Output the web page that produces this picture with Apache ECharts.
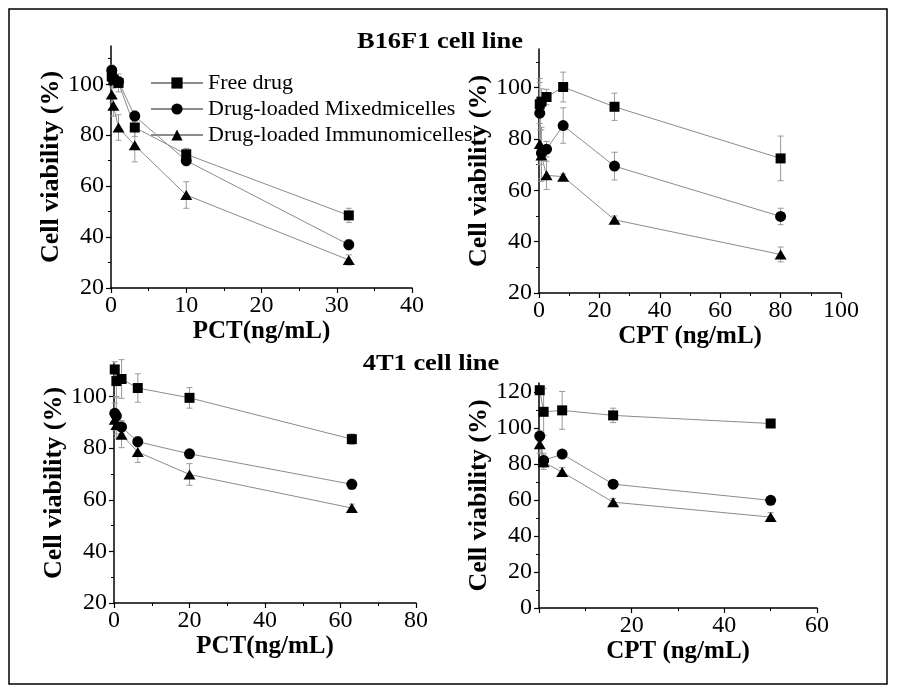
<!DOCTYPE html>
<html><head><meta charset="utf-8">
<script src="https://cdn.jsdelivr.net/npm/echarts@6/dist/echarts.min.js"></script>
<style>html,body{margin:0;padding:0;background:#fff}#c{width:897px;height:692px}</style>
</head><body><div id="c"></div>
<script>
const seriesNames = ['Free drug', 'Drug-loaded Mixedmicelles', 'Drug-loaded Immunomicelles'];
const titles = ['B16F1 cell line', '4T1 cell line'];
const xNames = ['PCT(ng/mL)', 'CPT (ng/mL)', 'PCT(ng/mL)', 'CPT (ng/mL)'];
const yName = 'Cell viability (%)';

// Panel A: B16F1, PCT
const xA = [0.1, 0.316, 1, 3.16, 10, 31.6];
const freeA = [103, 101.5, 100.5, 83, 72.5, 48.5];
const freeAErr = [3, 3, 3.5, 3.5, 2.3, 2.8];
const mixA = [105.5, 102.5, 101, 87.5, 70, 37];
const mixAErr = [2, 2, 2, 2, 2, 2];
const immA = [96, 91.5, 83, 76, 56.5, 31];
const immAErr = [3, 4, 5, 6.5, 5.2, 2];

// Panel B: B16F1, CPT
const xB = [0.25, 0.8, 2.5, 8, 25, 80];
const freeB = [93.5, 94.5, 96.3, 100.2, 92.5, 72.4];
const freeBErr = [10, 5, 3, 5.8, 5.3, 8.7];
const mixB = [90, 74.5, 76, 85.2, 69.4, 49.8];
const mixBErr = [12, 10, 3, 6.9, 5.4, 3.2];
const immB = [78, 73.5, 65.8, 65.3, 48.5, 35];
const immBErr = [8, 10, 5.5, 1, 1.5, 2.9];

// Panel C: 4T1, PCT
const xC = [0.2, 0.63, 2, 6.3, 20, 63];
const freeC = [110.5, 106, 106.8, 103.3, 99.5, 83.5];
const freeCErr = [3, 6, 7.5, 5.5, 4, 2];
const mixC = [93.5, 92.5, 88.2, 82.5, 77.8, 66];
const mixCErr = [4, 7, 2.5, 2, 1.5, 2];
const immC = [91, 89, 85.2, 78.5, 69.8, 56.8];
const immCErr = [4, 5, 5, 4, 4.2, 1.5];

// Panel D: 4T1, CPT
const xD = [0.16, 1, 5, 16, 50];
const freeD = [121, 109, 109.8, 107, 102.5];
const freeDErr = [2, 13, 10.5, 4, 1.5];
const mixD = [95.5, 82, 85.5, 68.8, 59.8];
const mixDErr = [3, 4, 2, 1, 1];
const immD = [91, 81, 75.5, 58.8, 50.5];
const immDErr = [5, 4, 2.5, 2, 2.5];

// axis ranges
const xMax = [40, 100, 80, 60];
const xInterval = [10, 20, 20, 20];
const yMin = [20, 20, 20, 0];
const yMax = [115, 115, 113, 125];
const yMajor = [[20, 40, 60, 80, 100], [20, 40, 60, 80, 100], [20, 40, 60, 80, 100], [0, 20, 40, 60, 80, 100, 120]];
const yMinor = [[30, 50, 70, 90, 110], [30, 50, 70, 90, 110], [30, 50, 70, 90, 110], [10, 30, 50, 70, 90, 110]];

const panels = [
  {x: xA, ys: [freeA, mixA, immA], es: [freeAErr, mixAErr, immAErr]},
  {x: xB, ys: [freeB, mixB, immB], es: [freeBErr, mixBErr, immBErr]},
  {x: xC, ys: [freeC, mixC, immC], es: [freeCErr, mixCErr, immCErr]},
  {x: xD, ys: [freeD, mixD, immD], es: [freeDErr, mixDErr, immDErr]}
];

const FONT = '"Liberation Serif", "Times New Roman", serif';
const grids = [
  {left: 111, top: 46, width: 301, height: 242},
  {left: 539, top: 49, width: 302, height: 244},
  {left: 114, top: 363, width: 302, height: 240},
  {left: 539, top: 383, width: 278, height: 225}
].map(g => Object.assign(g, {containLabel: false, outerBoundsMode: 'none'}));
const yNameGap = [45, 41, 45, 36];
const xNameGap = [29, 29, 31, 23];

const axisLine = {show: true, onZero: false, lineStyle: {color: '#000', width: 1.5}};
const xAxes = [], yAxes = [], yMinorAxes = [];
for (let i = 0; i < 4; i++) {
  xAxes.push({
    type: 'value', gridIndex: i, min: 0, max: xMax[i], interval: xInterval[i],
    name: xNames[i], nameLocation: 'middle', nameGap: xNameGap[i],
    nameTextStyle: {fontFamily: FONT, fontWeight: 'bold', fontSize: 25, color: '#000'},
    axisLine: axisLine,
    axisTick: {show: true, length: 5, lineStyle: {color: '#000', width: 1.2}},
    minorTick: {show: true, splitNumber: 2, length: 3, lineStyle: {color: '#000', width: 1}},
    splitLine: {show: false}, minorSplitLine: {show: false},
    axisLabel: {fontFamily: FONT, fontSize: 24, color: '#000', margin: 6,
      formatter: v => (i === 3 && v === 0) ? '' : String(v)}
  });
  yAxes.push({
    type: 'value', gridIndex: i, min: yMin[i], max: yMax[i], position: 'left',
    name: yName, nameLocation: 'middle', nameGap: yNameGap[i], nameRotate: 90,
    nameTextStyle: {fontFamily: FONT, fontWeight: 'bold', fontSize: 26, color: '#000'},
    axisLine: axisLine,
    axisTick: {show: true, length: 5, customValues: yMajor[i], lineStyle: {color: '#000', width: 1.2}},
    axisLabel: {fontFamily: FONT, fontSize: 24, color: '#000', margin: 7, customValues: yMajor[i]},
    splitLine: {show: false}
  });
  yMinorAxes.push({
    type: 'value', gridIndex: i, min: yMin[i], max: yMax[i], position: 'left', offset: 0,
    axisLine: {show: false},
    axisTick: {show: true, length: 3, customValues: yMinor[i], lineStyle: {color: '#000', width: 1}},
    axisLabel: {show: false}, splitLine: {show: false}
  });
}

const symbols = ['rect', 'circle', 'triangle'];
const symSizes = [10, 11, [12, 10]];
const series = [];
panels.forEach((p, gi) => {
  p.ys.forEach((ys, si) => {
    series.push({
      type: 'line', name: seriesNames[si], xAxisIndex: gi, yAxisIndex: gi,
      data: p.x.map((x, k) => [x, ys[k]]),
      symbol: symbols[si], symbolSize: symSizes[si], showSymbol: true,
      itemStyle: {color: '#000'}, lineStyle: {color: '#8c8c8c', width: 1},
      z: 3, animation: false, clip: false
    });
  });
});
panels.forEach((p, gi) => {
  p.ys.forEach((ys, si) => {
    series.push({
      type: 'custom', name: seriesNames[si] + ' SD', xAxisIndex: gi, yAxisIndex: gi,
      silent: true, z: 1, animation: false,
      data: p.x.map((x, k) => [x, ys[k] - p.es[si][k], ys[k] + p.es[si][k]]),
      encode: {x: 0, y: [1, 2]},
      renderItem: function (params, api) {
        const lo = api.coord([api.value(0), api.value(1)]);
        const hi = api.coord([api.value(0), api.value(2)]);
        const w = 3;
        const st = {stroke: '#9a9a9a', lineWidth: 1};
        return {type: 'group', children: [
          {type: 'line', shape: {x1: lo[0], y1: lo[1], x2: hi[0], y2: hi[1]}, style: st},
          {type: 'line', shape: {x1: lo[0] - w, y1: lo[1], x2: lo[0] + w, y2: lo[1]}, style: st},
          {type: 'line', shape: {x1: hi[0] - w, y1: hi[1], x2: hi[0] + w, y2: hi[1]}, style: st}
        ]};
      }
    });
  });
});

const chart = echarts.init(document.getElementById('c'), null, {renderer: 'canvas'});
chart.setOption({
  backgroundColor: '#fff',
  animation: false,
  grid: grids,
  xAxis: xAxes,
  yAxis: yAxes.concat(yMinorAxes),
  legend: {
    data: seriesNames, orient: 'vertical', left: 145, top: 67,
    itemGap: 4, itemWidth: 52, itemHeight: 14,
    textStyle: {fontFamily: FONT, fontSize: 22, color: '#000'}
  },
  graphic: [
    {type: 'rect', shape: {x: 9, y: 9, width: 878, height: 675}, style: {fill: 'none', stroke: '#000', lineWidth: 1.5}},
    {type: 'text', x: 440, y: 42, scaleX: 1.15, style: {text: titles[0], font: 'bold 23px ' + FONT, fill: '#000', align: 'center', verticalAlign: 'middle'}},
    {type: 'text', x: 431, y: 364, scaleX: 1.15, style: {text: titles[1], font: 'bold 23px ' + FONT, fill: '#000', align: 'center', verticalAlign: 'middle'}}
  ],
  series: series
});
</script></body></html>
